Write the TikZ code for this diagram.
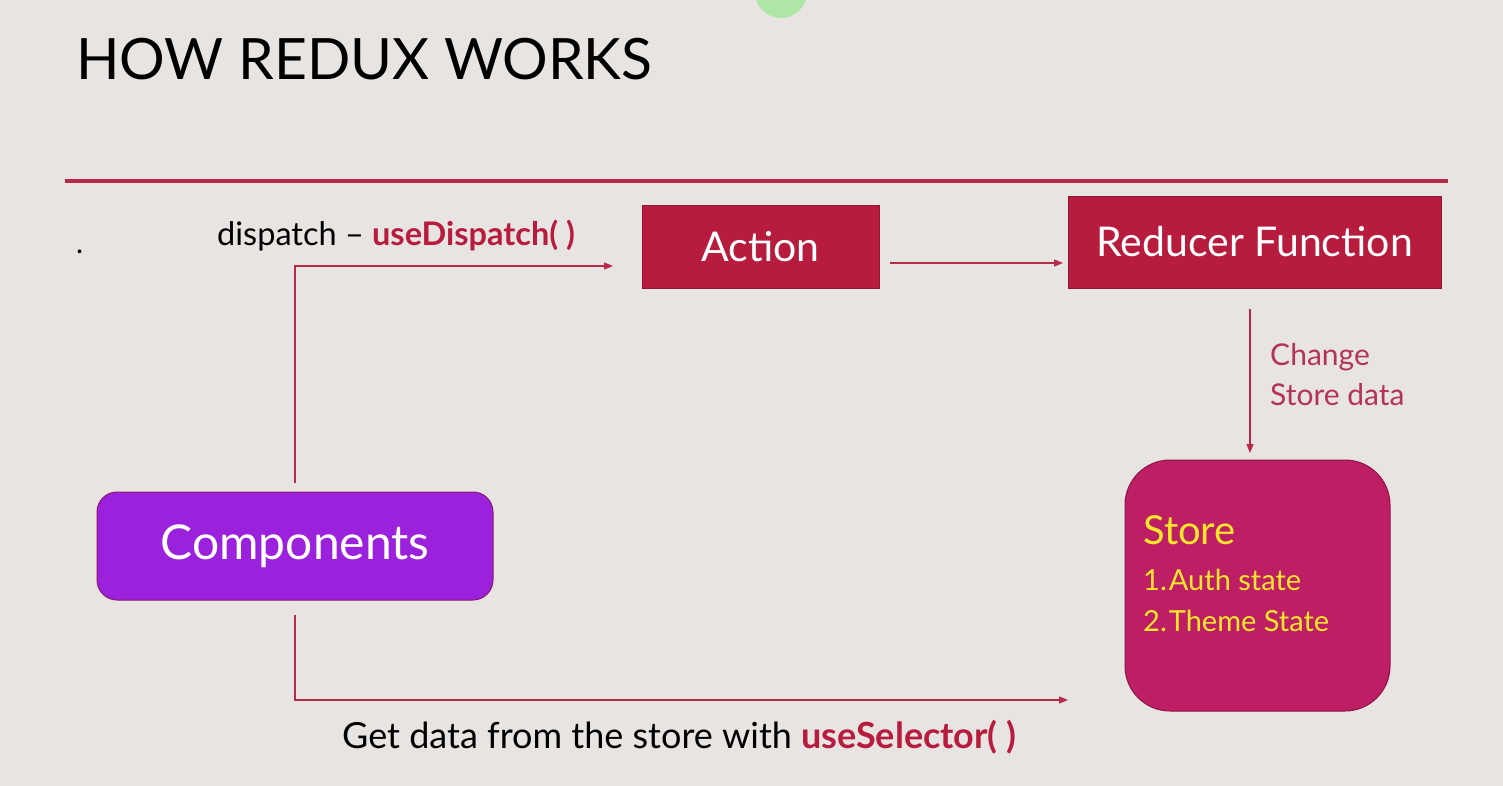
\documentclass[tikz,border=0pt]{standalone}
\usepackage{fontspec}
\setmainfont{Lato}
\usetikzlibrary{arrows.meta,positioning}
\definecolor{bgc}{HTML}{E7E4E1}
\definecolor{redc}{HTML}{B71C3E}
\definecolor{linec}{HTML}{B8294A}
\definecolor{lblc}{HTML}{B3345A}
\definecolor{storec}{HTML}{BE1E64}
\definecolor{storeb}{HTML}{8E1448}
\definecolor{compc}{HTML}{9B21DD}
\definecolor{compb}{HTML}{8A1A6A}
\definecolor{yelc}{HTML}{F7E62C}
\definecolor{greenc}{HTML}{AEE6A6}
\tikzset{
  redbox/.style={draw=redc!80!black, line width=0.8pt, fill=redc, text=white, inner sep=0pt, font=\fontsize{41}{46}\selectfont},
  conn/.style={draw=linec, line width=1.3pt, -{Triangle[length=9pt,width=7pt]}},
  txt/.style={inner sep=0pt, anchor=base west},
}
\begin{document}
\begin{tikzpicture}[x=1pt,y=-1pt]
\fill[bgc] (0,0) rectangle (1503,786);
\useasboundingbox (0,0) rectangle (1503,786);
\fill[greenc] (781,-8) circle (26);
% title
\node[txt, font=\fontsize{57}{62}\selectfont] (title) at (76,80) {HOW REDUX WORKS};
\draw[linec, line width=4pt] (65,181) -- (1448,181);
\node[txt, font=\fontsize{30}{36}\selectfont] (dot) at (76,253) {.};
% boxes
\node[redbox, minimum width=237pt, minimum height=83pt] (action) at (760.5,246.5) {Action};
\node[redbox, minimum width=373pt, minimum height=92pt] (reducer) at (1254.5,242) {Reducer Function};
\node[draw=storeb, line width=1pt, fill=storec, rounded corners=45pt, minimum width=265pt, minimum height=251pt] (store) at (1257.5,585.5) {};
\node[draw=compb, line width=1pt, fill=compc, rounded corners=20pt, minimum width=396pt, minimum height=108pt, text=white, font=\fontsize{48}{56}\selectfont] (comp) at (295,546) {Components};
% store text
\node[txt, text=yelc, font=\fontsize{40}{44}\selectfont] (st1) at (1143,544) {Store};
\node[txt, text=yelc, font=\fontsize{29}{32}\selectfont] (st2) at (1143,590) {1.\kern2pt Auth state};
\node[txt, text=yelc, font=\fontsize{29}{32}\selectfont] (st3) at (1143,631) {2.\kern2pt Theme State};
% labels
\node[txt, font=\fontsize{32.5}{38}\selectfont] (disp) at (217,246) {dispatch -- \textcolor{redc}{\textbf{useDispatch( )}}};
\node[txt, text=lblc, font=\fontsize{30}{34}\selectfont] (chg1) at (1270,365) {Change};
\node[txt, text=lblc, font=\fontsize{30}{34}\selectfont] (chg2) at (1270,405) {Store data};
\node[txt, font=\fontsize{36}{40}\selectfont] (getd) at (342,748) {Get data from the store with \textcolor{redc}{\textbf{useSelector( )}}};
% connectors
\coordinate (c1) at (295,483);
\coordinate (c2) at (295,266);
\coordinate (c3) at (613,266);
\draw[conn] (c1) -- (c2) -- (c3);
\coordinate (a1) at (890,263);
\coordinate (a2) at (1063,263);
\draw[conn] (a1) -- (a2);
\coordinate (r1) at (1250,309);
\coordinate (r2) at (1250,453);
\draw[conn] (r1) -- (r2);
\coordinate (b1) at (295,615);
\coordinate (b2) at (295,700);
\coordinate (b3) at (1068,700);
\draw[conn] (b1) -- (b2) -- (b3);
\end{tikzpicture}
\end{document}
